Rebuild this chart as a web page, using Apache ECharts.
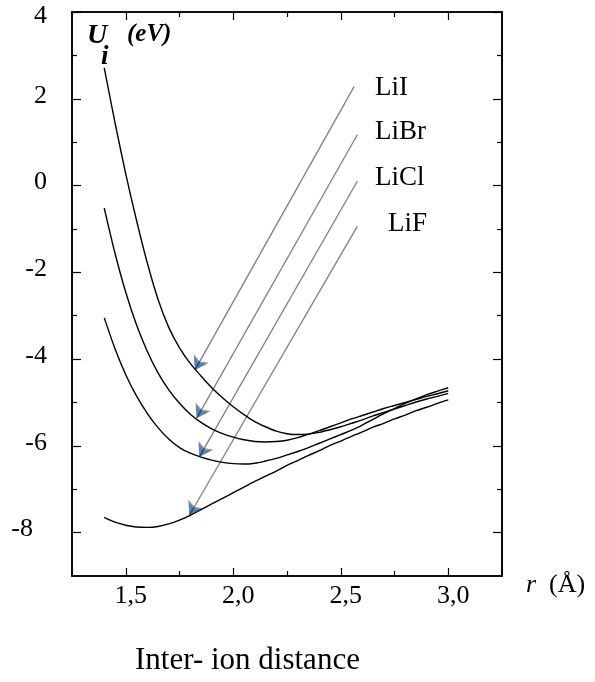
<!DOCTYPE html>
<html>
<head>
<meta charset="utf-8">
<script src="https://cdn.jsdelivr.net/npm/echarts@6/dist/echarts.min.js"></script>
<style>
  html, body { margin: 0; padding: 0; background: #fff; }
  #chart { width: 595px; height: 682px; }
</style>
</head>
<body>
<div id="chart"></div>
<script>
// Interionic potential energy U_i (eV) of lithium halides vs. distance r (Å)
const rValues = [1.40, 1.45, 1.50, 1.55, 1.60, 1.65, 1.70, 1.75, 1.80, 1.85, 1.90,
                 1.95, 2.00, 2.05, 2.10, 2.15, 2.20, 2.25, 2.30, 2.35, 2.40, 2.45,
                 2.50, 2.55, 2.60, 2.65, 2.70, 2.75, 2.80, 2.85, 2.90, 2.95, 3.00];
const uLiI  = [2.71, 1.45, 0.27, -0.80, -1.78, -2.62, -3.27, -3.74, -4.10, -4.39, -4.66,
               -4.89, -5.10, -5.28, -5.44, -5.56, -5.66, -5.72, -5.74, -5.73, -5.69, -5.63,
               -5.56, -5.48, -5.40, -5.31, -5.23, -5.15, -5.07, -4.99, -4.92, -4.86, -4.79];
const uLiBr = [-0.52, -1.56, -2.46, -3.21, -3.82, -4.32, -4.71, -5.02, -5.27, -5.46, -5.61,
               -5.72, -5.80, -5.86, -5.90, -5.91, -5.90, -5.87, -5.81, -5.73, -5.65, -5.56,
               -5.47, -5.38, -5.30, -5.22, -5.14, -5.07, -5.00, -4.93, -4.86, -4.80, -4.73];
const uLiCl = [-3.05, -3.76, -4.36, -4.85, -5.25, -5.58, -5.84, -6.04, -6.17, -6.26, -6.33,
               -6.38, -6.41, -6.42, -6.40, -6.35, -6.29, -6.21, -6.13, -6.04, -5.94, -5.84,
               -5.74, -5.64, -5.52, -5.39, -5.26, -5.14, -5.02, -4.92, -4.82, -4.74, -4.66];
const uLiF  = [-7.65, -7.76, -7.83, -7.87, -7.88, -7.86, -7.80, -7.71, -7.60, -7.47, -7.34,
               -7.21, -7.08, -6.95, -6.82, -6.70, -6.58, -6.45, -6.34, -6.22, -6.11, -5.99,
               -5.89, -5.78, -5.68, -5.57, -5.48, -5.38, -5.29, -5.19, -5.11, -5.02, -4.94];

// Pointer lines: from the compound label down to its curve
const arrowNames = ['LiI', 'LiBr', 'LiCl', 'LiF'];
const arrowFrom  = [[2.562, 2.28], [2.577, 1.17], [2.577, 0.10], [2.577, -0.94]];
const arrowTo    = [[1.822, -4.25], [1.830, -5.36], [1.843, -6.25], [1.796, -7.60]];

// Axis ticks
const xMajorTicks = [1.5, 2.0, 2.5, 3.0];
const xMinorTicks = [1.75, 2.25, 2.75];
const yMajorTicks = [-8, -6, -4, -2, 0, 2, 4];
const yMinorTicks = [-7, -5, -3, -1, 1, 3];

const SERIF = '"Liberation Serif", "Times New Roman", serif';
const X_MIN = 1.25, X_MAX = 3.25, Y_MIN = -9, Y_MAX = 4;

function pairs(xs, ys) { return xs.map((x, i) => [x, ys[i]]); }

function xAxisDef(position, ticks, len, withLabels) {
  return {
    type: 'value', position: position, min: X_MIN, max: X_MAX,
    axisLine: { show: true, onZero: false, lineStyle: { color: '#000', width: 1.6 } },
    axisTick: { show: true, inside: true, length: len, customValues: ticks,
                lineStyle: { color: '#000', width: 1.2 } },
    axisLabel: withLabels ? {
      show: true, customValues: ticks, margin: 7, color: '#000',
      fontFamily: SERIF, fontSize: 26, padding: [0, 0, 0, 10],
      formatter: v => v.toFixed(1).replace('.', ',')
    } : { show: false },
    splitLine: { show: false }
  };
}

function yAxisDef(position, ticks, len, withLabels) {
  return {
    type: 'value', position: position, min: Y_MIN, max: Y_MAX,
    axisLine: { show: true, onZero: false, lineStyle: { color: '#000', width: 1.6 } },
    axisTick: { show: true, inside: true, length: len, customValues: ticks,
                lineStyle: { color: '#000', width: 1.2 } },
    axisLabel: withLabels ? {
      show: true, customValues: ticks, margin: 25, color: '#000',
      fontFamily: SERIF, fontSize: 26,
      formatter: v => v === -8 ? '{far|-8}' : (v === 4 ? '{top|4}' : '{n|' + v + '}'),
      rich: {
        n:   { fontFamily: SERIF, fontSize: 26, color: '#000', padding: [0, 0, 6, 0] },
        far: { fontFamily: SERIF, fontSize: 26, color: '#000', padding: [0, 14, 6, 0] },
        top: { fontFamily: SERIF, fontSize: 26, color: '#000', padding: [9, 0, 0, 0] }
      }
    } : { show: false },
    splitLine: { show: false }
  };
}

function curve(name, values) {
  return {
    name: name, type: 'line', xAxisIndex: 0, yAxisIndex: 0,
    data: pairs(rValues, values), smooth: 0.3, showSymbol: false, symbol: 'none',
    lineStyle: { color: '#000', width: 1.4 }, z: 3
  };
}

const pointerData = arrowNames.map((n, i) => ({ name: n, coords: [arrowFrom[i], arrowTo[i]] }));

function pointerHeads(color, size, z) {
  return {
    type: 'lines', coordinateSystem: 'cartesian2d', xAxisIndex: 0, yAxisIndex: 0,
    data: pointerData, symbol: ['none', 'arrow'], symbolSize: size,
    lineStyle: { color: color, width: 0 }, z: z, silent: true
  };
}

const chart = echarts.init(document.getElementById('chart'), null, { renderer: 'canvas' });
chart.setOption({
  animation: false,
  backgroundColor: '#fff',
  grid: { left: 72, top: 12, width: 430, height: 564, containLabel: false },
  xAxis: [
    xAxisDef('bottom', xMajorTicks, 8, true),
    xAxisDef('bottom', xMinorTicks, 5, false),
    xAxisDef('top', xMajorTicks, 8, false),
    xAxisDef('top', xMinorTicks, 5, false)
  ],
  yAxis: [
    yAxisDef('left', yMajorTicks, 9, true),
    yAxisDef('left', yMinorTicks, 5, false),
    yAxisDef('right', yMajorTicks, 9, false),
    yAxisDef('right', yMinorTicks, 5, false)
  ],
  series: [
    curve('LiI', uLiI),
    curve('LiBr', uLiBr),
    curve('LiCl', uLiCl),
    curve('LiF', uLiF),
    pointerHeads('#10233f', [8.5, 13], 4),   // dark rim of the arrowheads
    pointerHeads('#2a6fd0', [6, 10.5], 5),   // blue arrowheads
    {
      // pointer shafts
      type: 'lines', coordinateSystem: 'cartesian2d', xAxisIndex: 0, yAxisIndex: 0,
      data: pointerData, symbol: ['none', 'none'], silent: true,
      lineStyle: { color: '#000', width: 1.3 }, z: 6
    }
  ],
  graphic: [
    { type: 'text', left: 87, top: 22, style: { text: 'U', font: 'italic bold 28px ' + SERIF, fill: '#000' } },
    { type: 'text', left: 101, top: 44, style: { text: 'i', font: 'italic bold 27px ' + SERIF, fill: '#000' } },
    { type: 'text', left: 127, top: 22, style: { text: '(eV)', font: 'italic bold 25px ' + SERIF, fill: '#000' } },
    { type: 'text', left: 375, top: 74, style: { text: 'LiI', font: '27px ' + SERIF, fill: '#000' } },
    { type: 'text', left: 375, top: 118, style: { text: 'LiBr', font: '27px ' + SERIF, fill: '#000' } },
    { type: 'text', left: 375, top: 164, style: { text: 'LiCl', font: '27px ' + SERIF, fill: '#000' } },
    { type: 'text', left: 388, top: 210, style: { text: 'LiF', font: '27px ' + SERIF, fill: '#000' } },
    { type: 'text', left: 526, top: 572, style: {
        text: '{i|r}{n|  (Å)}',
        rich: { i: { font: 'italic 26px ' + SERIF, fill: '#000' }, n: { font: '26px ' + SERIF, fill: '#000' } } } },
    { type: 'text', left: 135, top: 645, style: { text: 'Inter- ion distance', font: '31px ' + SERIF, fill: '#000' } }
  ]
});
</script>
</body>
</html>
